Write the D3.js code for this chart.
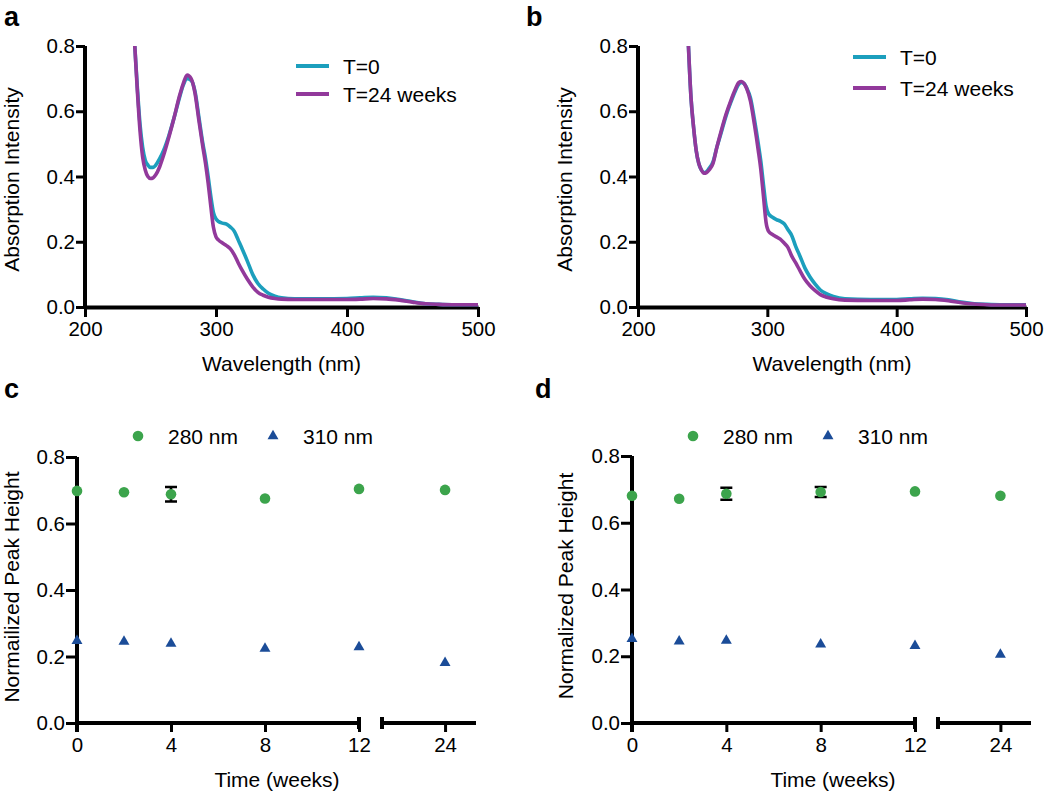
<!DOCTYPE html>
<html><head><meta charset="utf-8">
<script src="https://cdn.jsdelivr.net/npm/d3@7"></script>
<style>
body{margin:0;background:#fff}
svg text{font-family:"Liberation Sans",Arial,Helvetica,sans-serif;fill:#000}
</style>
</head><body>
<svg id="chart" width="1050" height="793"></svg>
<script>
// ---------------- DATA ----------------
// Panel a spectra
const wavelengthA = [238,240,242,244,246,248,250,252,254,257,260,264,268,272,275,278,281,284,287,290,292,294,296,298,300,302,305,308,311,314,317,320,324,328,332,336,340,345,350,360,380,400,410,420,430,440,450,460,470,480,490,500];
const absA_T0  = [0.80,0.67,0.56,0.49,0.45,0.435,0.428,0.428,0.435,0.455,0.48,0.525,0.58,0.64,0.68,0.70,0.695,0.66,0.58,0.50,0.455,0.40,0.34,0.29,0.27,0.262,0.257,0.254,0.245,0.232,0.205,0.178,0.14,0.10,0.072,0.055,0.042,0.033,0.028,0.025,0.025,0.026,0.028,0.030,0.028,0.023,0.016,0.010,0.008,0.007,0.007,0.007];
const absA_T24 = [0.80,0.66,0.54,0.46,0.42,0.40,0.394,0.396,0.405,0.43,0.465,0.52,0.58,0.645,0.685,0.711,0.70,0.655,0.57,0.49,0.44,0.38,0.31,0.245,0.215,0.205,0.196,0.188,0.178,0.160,0.135,0.112,0.085,0.062,0.045,0.036,0.030,0.026,0.024,0.023,0.023,0.023,0.024,0.026,0.025,0.021,0.015,0.010,0.008,0.007,0.007,0.007];
// Panel b spectra
const wavelengthB = [239,241,243,245,247,249,251,253,255,258,261,264,268,272,275,278,280,282,284,287,290,293,295,297,299,301,304,307,310,313,316,319,322,325,329,333,337,341,346,351,360,380,400,410,420,430,440,450,460,470,480,490,500];
const absB_T0  = [0.80,0.64,0.55,0.48,0.44,0.42,0.412,0.415,0.425,0.445,0.49,0.53,0.585,0.63,0.66,0.683,0.688,0.685,0.672,0.64,0.575,0.50,0.445,0.375,0.31,0.285,0.275,0.268,0.263,0.255,0.237,0.218,0.185,0.158,0.12,0.092,0.07,0.052,0.04,0.032,0.025,0.023,0.023,0.025,0.027,0.026,0.022,0.015,0.010,0.008,0.007,0.007,0.007];
const absB_T24 = [0.80,0.64,0.55,0.48,0.44,0.42,0.41,0.412,0.42,0.44,0.49,0.535,0.59,0.635,0.665,0.688,0.691,0.685,0.67,0.63,0.56,0.48,0.42,0.34,0.26,0.232,0.222,0.215,0.208,0.196,0.182,0.155,0.135,0.113,0.085,0.065,0.050,0.038,0.030,0.025,0.021,0.020,0.020,0.022,0.024,0.023,0.019,0.013,0.009,0.007,0.006,0.006,0.006];
const spectrumSeries = ["T=0","T=24 weeks"];
const wavelengthTicks = [200,300,400,500];
const intensityTicks = [0,0.2,0.4,0.6,0.8];

// Panels c and d: normalized peak heights
const timeWeeks = [0,2,4,8,12,24];
const timeTicks = [0,4,8,12,24];
const peakSeries = ["280 nm","310 nm"];
const peakC_280 = [0.698,0.694,0.688,0.675,0.704,0.701];
const errC_280  = [0,0,0.022,0,0,0];
const peakC_310 = [0.247,0.245,0.239,0.224,0.228,0.181];
const peakD_280 = [0.681,0.672,0.687,0.692,0.694,0.681];
const errD_280  = [0,0,0.018,0.015,0,0];
const peakD_310 = [0.252,0.245,0.247,0.236,0.231,0.205];

// ---------------- DRAWING ----------------
const svg = d3.select("#chart");
const TEAL = "#1c9fbd", PURPLE = "#92399b", GREEN = "#3ca44c", BLUE = "#1b4c98";
const FS = 21, TFS = 20.5;

function styleAxis(g, w) {
  g.selectAll("text").attr("font-size", TFS).attr("font-family", null).style("fill", "#000");
  g.attr("font-family", null).attr("font-size", null);
  g.selectAll(".tick line").attr("stroke", "#000").attr("stroke-width", 3);
  g.select(".domain").attr("stroke", "#000").attr("stroke-width", w);
}

function spectrumPanel(p) {
  const x = d3.scaleLinear().domain([200, 500]).range([p.left, p.right]);
  const y = d3.scaleLinear().domain([0, 0.8]).range([p.bottom, p.top]);
  const gx = svg.append("g").attr("transform", `translate(0,${p.bottom})`)
    .call(d3.axisBottom(x).tickValues(wavelengthTicks).tickSize(10).tickSizeOuter(0).tickPadding(4));
  styleAxis(gx, 4);
  const gy = svg.append("g").attr("transform", `translate(${p.left},0)`)
    .call(d3.axisLeft(y).tickValues(intensityTicks).tickFormat(d3.format(".1f")).tickSize(9).tickSizeOuter(0).tickPadding(1));
  styleAxis(gy, 4);
  gy.select(".domain").attr("d", `M0,${p.top}V${p.bottom + 2}`);

  const line = d3.line().x((d) => x(d[0])).y((d) => y(d[1])).curve(d3.curveMonotoneX);
  const series = [[p.t0, TEAL], [p.t24, PURPLE]];
  series.forEach(([vals, c]) => {
    svg.append("path").datum(p.wl.map((w, i) => [w, vals[i]]))
      .attr("d", line).attr("fill", "none").attr("stroke", c)
      .attr("stroke-width", 3.6).attr("stroke-linejoin", "round");
  });

  // legend
  spectrumSeries.forEach((name, i) => {
    const ly = p.legY + i * p.legDy;
    svg.append("line").attr("x1", p.legX).attr("x2", p.legX + 33).attr("y1", ly).attr("y2", ly)
      .attr("stroke", i === 0 ? TEAL : PURPLE).attr("stroke-width", 4);
    svg.append("text").attr("x", p.legX + 47).attr("y", ly + 7.5).attr("font-size", FS).text(name);
  });

  svg.append("text").attr("x", (p.left + p.right) / 2).attr("y", p.xlabY)
    .attr("text-anchor", "middle").attr("font-size", FS).text("Wavelength (nm)");
  svg.append("text").attr("transform", `translate(${p.ylabX},${(p.top + p.bottom) / 2 + 3}) rotate(-90)`)
    .attr("text-anchor", "middle").attr("font-size", FS).text("Absorption Intensity");
  svg.append("text").attr("x", p.tagX).attr("y", p.tagY).attr("font-size", 27)
    .attr("font-weight", "bold").text(p.tag);
}

function peakPanel(p) {
  const x = d3.scaleLinear().domain([0, 12, 21.35, 25.3]).range([p.left, p.x12, p.seg2, p.right]);
  const y = d3.scaleLinear().domain([0, 0.8]).range([p.bottom, p.top]);
  const gx = svg.append("g").attr("transform", `translate(0,${p.bottom})`)
    .call(d3.axisBottom(x).tickValues(timeTicks).tickSize(9).tickSizeOuter(0).tickPadding(5));
  styleAxis(gx, 4);
  gx.select(".domain").remove();
  // broken x axis
  gx.append("path").attr("d", `M${x(0)},0H${x(12)}M${x(21.35)},0H${x(25.3)}`)
    .attr("stroke", "#000").attr("stroke-width", 4).attr("fill", "none");
  [12, 21.35].forEach((v) => {
    gx.append("line").attr("x1", x(v)).attr("x2", x(v)).attr("y1", -6).attr("y2", 6)
      .attr("stroke", "#000").attr("stroke-width", 4);
  });

  const gy = svg.append("g").attr("transform", `translate(${p.left},0)`)
    .call(d3.axisLeft(y).tickValues(intensityTicks).tickFormat(d3.format(".1f")).tickSize(11).tickSizeOuter(0).tickPadding(1));
  styleAxis(gy, 4);
  gy.select(".domain").attr("d", `M0,${p.top}V${p.bottom + 9}`);

  // error bars
  timeWeeks.forEach((t, i) => {
    const e = p.err[i];
    if (!e) return;
    const cx = x(t), y1 = y(p.v280[i] + e), y2 = y(p.v280[i] - e);
    svg.append("path").attr("d", `M${cx},${y1}V${y2}M${cx - 6},${y1}H${cx + 6}M${cx - 6},${y2}H${cx + 6}`)
      .attr("stroke", "#000").attr("stroke-width", 2.6).attr("fill", "none");
  });
  svg.append("g").selectAll("circle").data(timeWeeks).join("circle")
    .attr("cx", (d) => x(d)).attr("cy", (d, i) => y(p.v280[i])).attr("r", 5.3).attr("fill", GREEN);
  const tri = d3.symbol(d3.symbolTriangle, 52);
  svg.append("g").selectAll("path").data(timeWeeks).join("path")
    .attr("d", tri).attr("transform", (d, i) => `translate(${x(d)},${y(p.v310[i])})`).attr("fill", BLUE);

  // legend
  svg.append("circle").attr("cx", p.leg1).attr("cy", p.legY).attr("r", 5.3).attr("fill", GREEN);
  svg.append("text").attr("x", p.leg1 + 30).attr("y", p.legY + 7.5).attr("font-size", FS).text(peakSeries[0]);
  svg.append("path").attr("d", tri).attr("transform", `translate(${p.leg2},${p.legY})`).attr("fill", BLUE);
  svg.append("text").attr("x", p.leg2 + 30).attr("y", p.legY + 7.5).attr("font-size", FS).text(peakSeries[1]);

  svg.append("text").attr("x", p.xlabX).attr("y", p.xlabY)
    .attr("text-anchor", "middle").attr("font-size", FS).text("Time (weeks)");
  svg.append("text").attr("transform", `translate(${p.ylabX},${p.ylabCY}) rotate(-90)`)
    .attr("text-anchor", "middle").attr("font-size", FS).text(p.ylab);
  svg.append("text").attr("x", p.tagX).attr("y", p.tagY).attr("font-size", 27)
    .attr("font-weight", "bold").text(p.tag);
}

spectrumPanel({ left: 85, right: 478, top: 46, bottom: 307, wl: wavelengthA, t0: absA_T0, t24: absA_T24,
  legX: 296, legY: 66, legDy: 28, xlabY: 371, ylabX: 19, tagX: 4, tagY: 26, tag: "a" });
spectrumPanel({ left: 638, right: 1026, top: 46, bottom: 307, wl: wavelengthB, t0: absB_T0, t24: absB_T24,
  legX: 853, legY: 57, legDy: 31, xlabY: 371, ylabX: 572, tagX: 526, tagY: 26, tag: "b" });
peakPanel({ left: 77, x12: 359, seg2: 382, right: 476, top: 457, bottom: 723,
  v280: peakC_280, err: errC_280, v310: peakC_310, leg1: 138, leg2: 273, legY: 436,
  xlabX: 277, xlabY: 787, ylabX: 19, ylabCY: 587, ylab: "Normailized Peak Height", tagX: 4, tagY: 398, tag: "c" });
peakPanel({ left: 632, x12: 915, seg2: 938, right: 1031, top: 456, bottom: 723,
  v280: peakD_280, err: errD_280, v310: peakD_310, leg1: 693, leg2: 828, legY: 436,
  xlabX: 833, xlabY: 787, ylabX: 573, ylabCY: 586, ylab: "Normalized Peak Height", tagX: 535, tagY: 398, tag: "d" });
</script>
</body></html>
